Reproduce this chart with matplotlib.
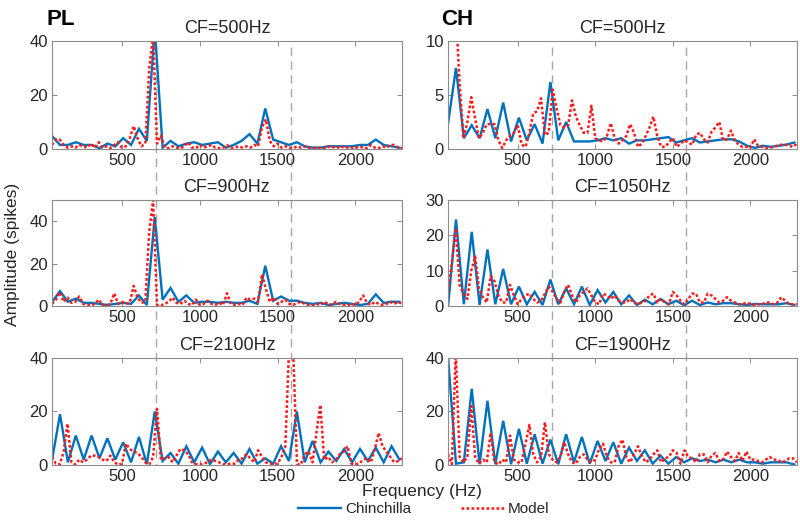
import numpy as np
import matplotlib
matplotlib.use('Agg')
import matplotlib.pyplot as plt
from matplotlib.lines import Line2D
from matplotlib import transforms

plt.rcParams['font.family'] = ['Liberation Sans', 'DejaVu Sans']

# frequency axes (Hz): chinchilla data at half-F0 steps, model at 25 Hz steps
chin_freq = np.arange(1, 46) * 50.75
model_freq = np.arange(50, 2301, 25)

# vertical reference lines (Hz)
formant_lines = [718, 1585]

# ---- PL, CF=500Hz
pl500_chin = [4.8, 1.5, 1.5, 2.5, 1.5, 1.5, 0.3, 2.0, 1.0, 4.0,
              1.5, 7.5, 3.0, 45, 0.5, 3.0, 1.0, 2.0, 2.5, 1.5,
              2.0, 2.5, 0.5, 1.5, 3.0, 5.5, 2.0, 15, 3.5, 2.5,
              1.5, 2.5, 1.0, 0.5, 0.5, 1.0, 1.0, 1.0, 1.0, 1.5,
              1.5, 3.5, 1.5, 1.0, 0.5]
pl500_model = [1.5, 3.5, 3.5, 1.5, 0.5, 1.0, 0.5, 1.5, 1.0, 0.5,
               2.0, 0.5, 2.5, 0.5, 1.0, 0.3, 1.5, 2.5, 0.5, 1.0,
               4.0, 8.5, 4.0, 1.0, 2.0, 30, 42, 2.0, 5.0, 0.5,
               0.3, 1.0, 0.5, 0.3, 1.0, 2.5, 0.5, 0.3, 1.5, 0.5,
               1.0, 1.5, 0.5, 0.3, 0.5, 1.5, 0.3, 0.5, 1.0, 0.5,
               1.0, 0.5, 1.5, 1.0, 8.0, 11, 3.0, 1.0, 2.0, 0.5,
               1.0, 0.5, 0.3, 1.0, 0.5, 1.0, 0.3, 0.5, 0.3, 0.5,
               0.3, 1.0, 0.5, 1.0, 0.3, 1.0, 0.5, 0.5, 0.3, 1.0,
               0.5, 0.3, 1.5, 0.5, 0.3, 1.0, 0.5, 1.5, 1.5, 0.5,
               0.3]

# ---- PL, CF=900Hz
pl900_chin = [2.0, 7.0, 2.0, 3.5, 1.5, 1.5, 1.0, 0.5, 1.0, 1.5,
              1.0, 5.0, 0.5, 42, 3.0, 8.5, 2.0, 5.0, 1.5, 2.0,
              2.0, 1.5, 2.0, 1.5, 1.5, 2.5, 1.0, 19, 2.5, 4.5,
              2.5, 2.5, 1.5, 1.0, 1.5, 0.5, 1.0, 1.5, 1.0, 0.5,
              1.0, 5.5, 1.5, 2.0, 2.0]
pl900_model = [1.0, 3.0, 6.5, 2.0, 4.0, 1.5, 2.0, 4.5, 1.0, 0.5,
               0.3, 1.0, 3.0, 0.5, 0.3, 1.0, 6.0, 1.0, 2.0, 1.0,
               1.5, 9.5, 4.0, 1.5, 2.0, 35, 50, 0.5, 0.3, 1.0,
               2.0, 4.0, 1.5, 1.0, 2.5, 1.0, 0.5, 3.0, 0.5, 1.0,
               2.5, 1.0, 0.5, 1.5, 0.5, 6.0, 1.0, 0.5, 1.0, 0.5,
               4.0, 3.0, 3.5, 2.0, 15, 8.0, 2.0, 4.0, 1.0, 2.0,
               3.0, 1.0, 0.5, 1.5, 2.0, 1.0, 0.5, 0.3, 1.0, 0.5,
               2.0, 1.0, 0.5, 2.0, 1.0, 0.5, 0.3, 1.0, 0.5, 2.0,
               5.0, 1.5, 0.5, 2.0, 1.0, 0.5, 1.0, 2.0, 1.0, 2.0,
               1.0]

# ---- PL, CF=2100Hz
pl2100_chin = [2.0, 19, 1.0, 11, 2.0, 11, 2.5, 10, 2.0, 8.5,
               1.0, 10.5, 0.3, 20, 1.5, 4.5, 0.5, 7.0, 1.0, 6.5,
               0.3, 5.0, 1.0, 4.5, 0.5, 6.0, 0.5, 2.5, 0.5, 7.0,
               1.5, 20, 1.0, 9.0, 1.0, 5.0, 1.5, 6.0, 1.0, 6.0,
               1.5, 6.5, 1.0, 7.0, 2.0]
pl2100_model = [3.0, 0.5, 0.2, 5.0, 15.5, 1.0, 0.2, 2.0, 1.0, 2.0,
                3.5, 3.5, 3.0, 2.0, 1.5, 3.5, 1.0, 0.2, 0.5, 8.0,
                6.0, 5.0, 4.5, 3.0, 1.0, 0.2, 3.0, 21, 2.0, 2.5,
                3.0, 1.0, 3.5, 6.0, 5.5, 4.0, 1.0, 0.3, 0.2, 0.5,
                1.0, 2.0, 1.5, 1.0, 0.3, 0.2, 0.5, 0.5, 2.0, 2.5,
                4.0, 2.5, 1.0, 5.5, 3.0, 1.0, 0.5, 0.5, 0.5, 3.0,
                7.0, 45, 44, 0.3, 0.2, 4.0, 5.0, 1.0, 12, 22.5,
                2.0, 3.0, 1.0, 2.0, 4.0, 5.0, 7.0, 0.5, 0.2, 0.5,
                2.0, 2.5, 1.0, 6.0, 12, 7.0, 5.0, 3.0, 1.0, 1.5,
                2.5]

# ---- CH, CF=500Hz
ch500_chin = [2.4, 7.5, 1.0, 2.2, 1.0, 3.7, 1.0, 4.3, 0.7, 2.9,
              0.8, 2.3, 0.5, 6.2, 0.8, 2.5, 0.7, 0.7, 0.7, 0.8,
              1.0, 0.8, 1.0, 0.5, 0.8, 0.8, 0.9, 1.0, 1.1, 0.6,
              0.8, 1.0, 0.6, 0.7, 0.8, 0.9, 0.9, 0.7, 0.3, 0.1,
              0.3, 0.2, 0.3, 0.4, 0.6]
ch500_model = [14, 16, 13, 6.0, 1.0, 2.5, 4.8, 2.8, 1.0, 1.5,
               2.3, 2.3, 2.3, 0.8, 0.1, 0.8, 1.2, 1.5, 2.2, 0.4,
               0.2, 1.5, 3.3, 3.5, 4.7, 1.3, 1.5, 5.5, 3.8, 2.2,
               2.0, 2.2, 4.5, 3.0, 2.2, 1.5, 1.5, 4.0, 1.0, 0.8,
               0.7, 1.2, 2.4, 1.0, 0.5, 0.8, 1.2, 2.3, 1.5, 0.2,
               0.5, 1.2, 2.0, 3.0, 1.2, 0.2, 0.2, 0.6, 1.0, 0.2,
               0.5, 0.8, 0.6, 0.4, 1.3, 1.5, 0.9, 0.6, 1.6, 2.0,
               2.5, 0.8, 0.9, 1.7, 0.8, 0.4, 0.2, 0.2, 0.1, 0.9,
               0.3, 0.2, 0.1, 0.1, 0.2, 0.3, 0.4, 0.4, 0.3, 0.2,
               0.5]

# ---- CH, CF=1050Hz
ch1050_chin = [0.0, 24.5, 0.5, 21, 0.3, 16, 0.5, 10.5, 0.5, 5.5,
               0.5, 4.0, 0.3, 7.5, 0.5, 5.0, 0.5, 5.5, 0.3, 4.5,
               1.0, 4.0, 0.5, 3.0, 0.3, 1.8, 0.5, 2.0, 0.5, 1.5,
               0.2, 1.5, 0.3, 1.0, 0.5, 0.8, 0.8, 0.5, 0.3, 0.6,
               0.5, 0.5, 0.5, 0.8, 0.3]
ch1050_model = [4.0, 12, 22, 6.0, 3.5, 2.0, 10, 14, 5.0, 2.5,
                1.0, 8.5, 7.0, 3.0, 1.0, 1.0, 6.0, 3.0, 0.5, 2.0,
                3.0, 3.5, 2.0, 1.0, 1.5, 3.5, 5.5, 4.0, 2.0, 1.0,
                4.0, 6.0, 3.0, 1.0, 3.0, 4.0, 5.0, 3.0, 1.0, 0.5,
                3.5, 3.0, 2.0, 3.0, 1.5, 1.0, 1.0, 2.0, 1.0, 0.5,
                1.0, 1.5, 3.0, 3.5, 1.0, 2.0, 1.0, 0.5, 4.0, 3.0,
                1.5, 0.5, 2.0, 3.5, 3.5, 1.0, 1.0, 3.5, 3.0, 2.0,
                1.0, 1.5, 2.5, 1.5, 1.0, 0.5, 0.5, 1.0, 0.5, 0.3,
                0.5, 0.5, 1.0, 1.0, 0.5, 1.0, 2.5, 1.5, 0.5, 0.5,
                0.5]

# ---- CH, CF=1900Hz
ch1900_chin = [40, 0.5, 1.0, 28.5, 0.3, 24, 0.3, 16.5, 0.3, 13.5,
               0.5, 11.5, 0.5, 9.5, 0.3, 11.5, 1.0, 10.5, 0.5, 9.0,
               1.5, 8.5, 0.5, 6.5, 1.5, 5.5, 0.5, 3.5, 0.5, 3.0,
               1.0, 2.5, 1.5, 2.0, 1.0, 2.0, 1.0, 2.0, 1.0, 1.0,
               0.5, 1.0, 1.0, 1.0, 0.2]
ch1900_model = [4.0, 0.3, 42, 3.0, 1.0, 3.0, 22, 3.0, 0.5, 2.0,
                1.0, 12, 1.0, 0.2, 2.0, 1.0, 11, 2.0, 1.0, 1.0,
                8.0, 15, 4.0, 1.0, 3.0, 16, 4.0, 2.0, 1.0, 3.0,
                8.5, 4.0, 1.0, 0.5, 3.0, 4.0, 2.0, 1.0, 2.0, 6.0,
                8.0, 3.0, 1.0, 1.0, 7.0, 9.5, 3.0, 1.0, 4.0, 7.0,
                3.5, 1.0, 2.0, 4.0, 5.5, 1.0, 2.5, 3.0, 5.5, 4.5,
                0.5, 5.5, 3.0, 2.5, 1.0, 4.0, 4.0, 1.0, 3.5, 4.5,
                1.5, 2.0, 5.0, 3.0, 1.5, 4.5, 1.5, 5.0, 2.0, 2.0,
                1.5, 1.0, 2.0, 3.0, 2.0, 2.0, 1.0, 1.5, 2.5, 2.5,
                1.0]

titles = ['CF=500Hz', 'CF=900Hz', 'CF=2100Hz', 'CF=500Hz', 'CF=1050Hz', 'CF=1900Hz']
xticks = [500, 1000, 1500, 2000]

BLUE = '#0072bd'
RED = '#ff1a1a'
EDGE = '#8c8c8c'
TXT = '#262626'

fig = plt.figure(figsize=(8, 5.25), dpi=100)

col_x = [(0.065, 0.4375), (0.56, 0.436)]
row_y = [(0.7162, 0.2057), (0.4171, 0.2019), (0.1143, 0.2038)]

panels = [
    (0, 0, pl500_chin, pl500_model, 40, [0, 20, 40]),
    (1, 0, pl900_chin, pl900_model, 50, [0, 20, 40]),
    (2, 0, pl2100_chin, pl2100_model, 40, [0, 20, 40]),
    (0, 1, ch500_chin, ch500_model, 10, [0, 5, 10]),
    (1, 1, ch1050_chin, ch1050_model, 30, [0, 10, 20, 30]),
    (2, 1, ch1900_chin, ch1900_model, 40, [0, 20, 40]),
]

axes = {}
for i, (row, col, chin, model, ymax, yticks) in enumerate(panels):
    x0, w = col_x[col]
    y0, h = row_y[row]
    ax = fig.add_axes([x0, y0, w, h])
    ax.patch.set_facecolor('none')
    ax.plot(chin_freq, chin, color=BLUE, lw=1.7, solid_joinstyle='miter')
    ax.plot(model_freq, model, color=RED, lw=1.8, linestyle=(0, (1.1, 0.9)))
    ax.set_xlim(50, 2300)
    ax.set_ylim(0, ymax)
    ax.set_xticks(xticks)
    ax.set_yticks(yticks)
    ax.set_title(titles[i], fontsize=13, color=TXT, pad=6)
    ax.tick_params(direction='in', top=True, right=True, length=3.5, width=0.7,
                   color=EDGE, labelcolor=TXT, labelsize=12, pad=3)
    for sp in ax.spines.values():
        sp.set_color(EDGE)
        sp.set_linewidth(0.8)
    axes[(row, col)] = ax

# dashed reference lines spanning all three rows of each column
y_top = (525 - 47) / 525
y_bot = row_y[2][0]
for col in (0, 1):
    ax = axes[(2, col)]
    trans = transforms.blended_transform_factory(ax.transData, fig.transFigure)
    for f in formant_lines:
        fig.add_artist(Line2D([f, f], [y_top, y_bot], transform=trans, color='#a6a6a6',
                              lw=1.0, linestyle=(0, (6, 4)), zorder=-1))

fig.text(0.058, 0.982, 'PL', fontsize=16, fontweight='bold', va='top', ha='left')
fig.text(0.552, 0.982, 'CH', fontsize=16, fontweight='bold', va='top', ha='left')

fig.text(0.528, 0.063, 'Frequency (Hz)', fontsize=12.5, color=TXT, ha='center', va='center')
fig.text(0.016, 0.515, 'Amplitude (spikes)', fontsize=12.5, color=TXT, ha='center',
         va='center', rotation=90)

handles = [Line2D([], [], color=BLUE, lw=1.7),
           Line2D([], [], color=RED, lw=1.8, linestyle=(0, (1.1, 0.9)))]
fig.legend(handles, ['Chinchilla', 'Model'], loc='center', bbox_to_anchor=(0.53, 0.03),
           ncol=2, frameon=False, fontsize=11, handlelength=2.8, handletextpad=0.3,
           columnspacing=3.2, labelcolor=TXT)

fig.savefig('out.png', dpi=100)
